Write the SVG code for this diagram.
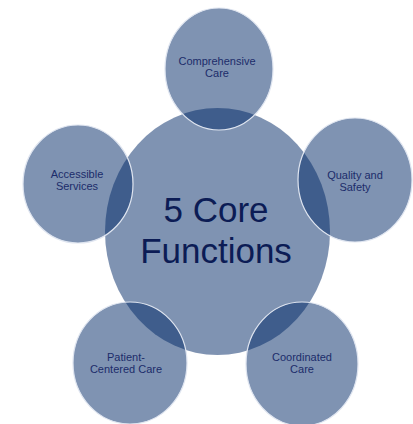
<svg xmlns="http://www.w3.org/2000/svg" width="413" height="424" viewBox="0 0 413 424">
  <style>
    .disc { fill: #002866; fill-opacity: 0.5; }
    .petal { stroke: #dfe5f0; stroke-width: 1.2; }
    .lbl { font-family: "Liberation Sans", Arial, sans-serif; font-size: 11px; fill: #1c2c6a; text-anchor: middle; }
    .title { font-family: "Liberation Sans", Arial, sans-serif; font-size: 35px; fill: #0c1c55; text-anchor: middle; }
  </style>
  <rect width="413" height="424" fill="#ffffff"/>

  <g id="core">
    <ellipse class="disc" cx="217.5" cy="231.5" rx="112.5" ry="123.5"/>
  </g>

  <g id="comprehensive-care">
    <ellipse class="disc petal" cx="219" cy="69" rx="54" ry="61"/>
    <text class="lbl" x="217" y="65">Comprehensive</text>
    <text class="lbl" x="217" y="77">Care</text>
  </g>

  <g id="quality-and-safety">
    <ellipse class="disc petal" cx="355" cy="180" rx="57" ry="62"/>
    <text class="lbl" x="355" y="179">Quality and</text>
    <text class="lbl" x="355" y="191">Safety</text>
  </g>

  <g id="accessible-services">
    <ellipse class="disc petal" cx="78" cy="184" rx="55" ry="59"/>
    <text class="lbl" x="77" y="178">Accessible</text>
    <text class="lbl" x="77" y="190">Services</text>
  </g>

  <g id="patient-centered-care">
    <ellipse class="disc petal" cx="130" cy="363" rx="57" ry="61"/>
    <text class="lbl" x="126" y="361">Patient-</text>
    <text class="lbl" x="126" y="373">Centered Care</text>
  </g>

  <g id="coordinated-care">
    <ellipse class="disc petal" cx="302" cy="364" rx="56" ry="62"/>
    <text class="lbl" x="302" y="361">Coordinated</text>
    <text class="lbl" x="302" y="373">Care</text>
  </g>

  <g id="core-label">
    <text class="title" x="216" y="222">5 Core</text>
    <text class="title" x="216" y="263">Functions</text>
  </g>

  <g id="connectors"/>
</svg>
